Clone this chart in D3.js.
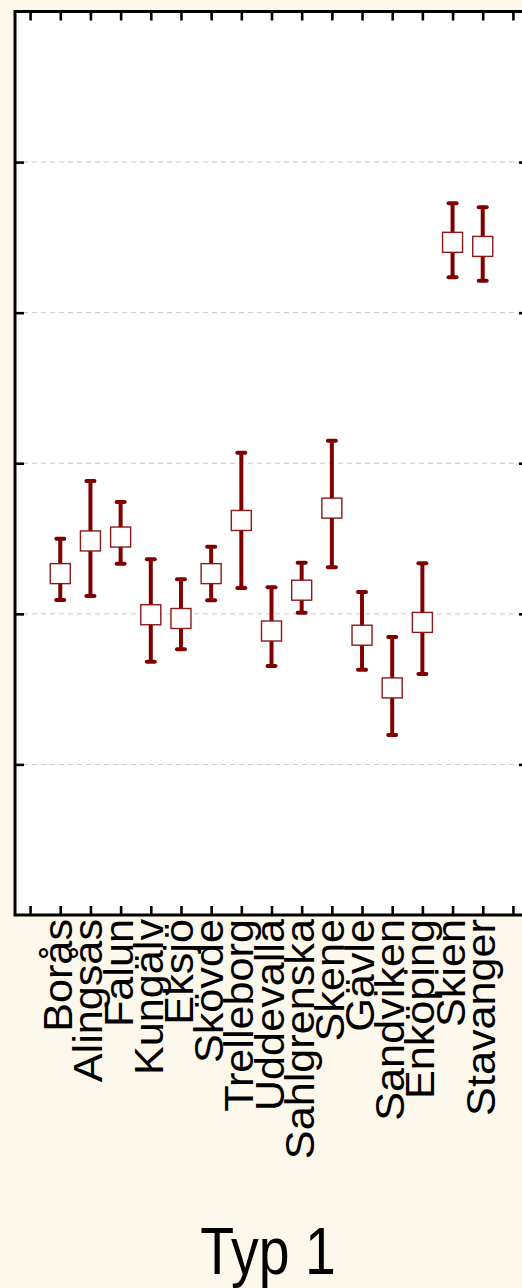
<!DOCTYPE html>
<html>
<head>
<meta charset="utf-8">
<script src="https://cdn.jsdelivr.net/npm/d3@7"></script>
<style>
  html, body { margin: 0; padding: 0; background: #fdf8ec; }
  svg { display: block; }
  text { font-family: "Liberation Sans", Arial, sans-serif; }
</style>
</head>
<body>
<script>
const categories = ["Borås","Alingsås","Falun","Kungälv","Eksjö","Skövde","Trelleborg","Uddevalla","Sahlgrenska","Skene","Gävle","Sandviken","Enköping","Skien","Stavanger"];
const means  = [2.267, 2.484, 2.510, 1.994, 1.969, 2.267, 2.620, 1.886, 2.157, 2.702, 1.858, 1.508, 1.943, 4.467, 4.440];
const upper  = [2.499, 2.882, 2.743, 2.362, 2.229, 2.446, 3.070, 2.176, 2.340, 3.150, 2.145, 1.846, 2.336, 4.726, 4.700];
const lower  = [2.092, 2.118, 2.333, 1.682, 1.765, 2.090, 2.172, 1.654, 2.008, 2.309, 1.629, 1.195, 1.600, 4.235, 4.212];
const yTicks = [1, 2, 3, 4, 5];
const xTickPositions = d3.range(0, 17);
const title = "Typ 1";

const W = 522, H = 1288;
const svg = d3.select("body").append("svg").attr("width", W).attr("height", H);
svg.append("rect").attr("width", W).attr("height", H).attr("fill", "#fdf8ec");

const x = d3.scaleLinear().domain([-0.5, 16.5]).range([15, 528]);
const y = d3.scaleLinear().domain([0, 6]).range([915, 11.5]);

// plot area
svg.append("rect").attr("x", 15).attr("y", 11.5).attr("width", 513).attr("height", 903.5).attr("fill", "#ffffff");

// grid
svg.append("g").selectAll("line").data(yTicks).join("line")
  .attr("x1", 23).attr("x2", 520)
  .attr("y1", d => y(d)).attr("y2", d => y(d))
  .attr("stroke", "#c8c8c8").attr("stroke-width", 1).attr("stroke-dasharray", "5,4");

function styleAxis(g) {
  g.select(".domain").remove();
  g.selectAll(".tick line").attr("stroke", "#000").attr("stroke-width", 2.6);
  g.selectAll(".tick text").remove();
}
svg.append("g").attr("transform", "translate(0,915)")
  .call(d3.axisBottom(x).tickValues(xTickPositions).tickSize(-9).tickFormat(""))
  .call(styleAxis);
svg.append("g").attr("transform", "translate(0,11.5)")
  .call(d3.axisTop(x).tickValues(xTickPositions).tickSize(-9).tickFormat(""))
  .call(styleAxis);
svg.append("g").attr("transform", "translate(15,0)")
  .call(d3.axisLeft(y).tickValues(yTicks).tickSize(-9).tickFormat(""))
  .call(styleAxis);
svg.append("g").attr("transform", "translate(528,0)")
  .call(d3.axisRight(y).tickValues(yTicks).tickSize(-9).tickFormat(""))
  .call(styleAxis);

// frame
svg.append("rect").attr("x", 15).attr("y", 11.5).attr("width", 513).attr("height", 903.5)
  .attr("fill", "none").attr("stroke", "#000").attr("stroke-width", 3);

// error bars
const data = categories.map((c, i) => ({c, pos: i + 1, m: means[i], hi: upper[i], lo: lower[i]}));
const g = svg.append("g");
const red = "#800000";
g.selectAll(".bar").data(data).join("line")
  .attr("x1", d => x(d.pos)).attr("x2", d => x(d.pos))
  .attr("y1", d => y(d.hi)).attr("y2", d => y(d.lo))
  .attr("stroke", red).attr("stroke-width", 4);
["hi", "lo"].forEach(k => {
  g.selectAll(".cap-" + k).data(data).join("line")
    .attr("x1", d => x(d.pos) - 4).attr("x2", d => x(d.pos) + 4)
    .attr("y1", d => y(d[k])).attr("y2", d => y(d[k]))
    .attr("stroke", red).attr("stroke-width", 4).attr("stroke-linecap", "round");
});
g.selectAll(".box").data(data).join("rect")
  .attr("x", d => x(d.pos) - 10).attr("y", d => y(d.m) - 10)
  .attr("width", 20).attr("height", 20)
  .attr("fill", "#fff").attr("stroke", "#8b1a1a").attr("stroke-width", 1.4);

// category labels
svg.append("g").selectAll("text").data(data).join("text")
  .attr("transform", d => `translate(${x(d.pos)},919) rotate(-90) scale(1.08,1)`)
  .attr("dy", "0.3em")
  .attr("text-anchor", "end")
  .attr("font-size", 40)
  .attr("fill", "#000")
  .text(d => d.c);

// title
svg.append("text")
  .attr("transform", "translate(268,1274) scale(0.84,1)")
  .attr("text-anchor", "middle")
  .attr("font-size", 66)
  .attr("fill", "#000")
  .text(title);
</script>
</body>
</html>
